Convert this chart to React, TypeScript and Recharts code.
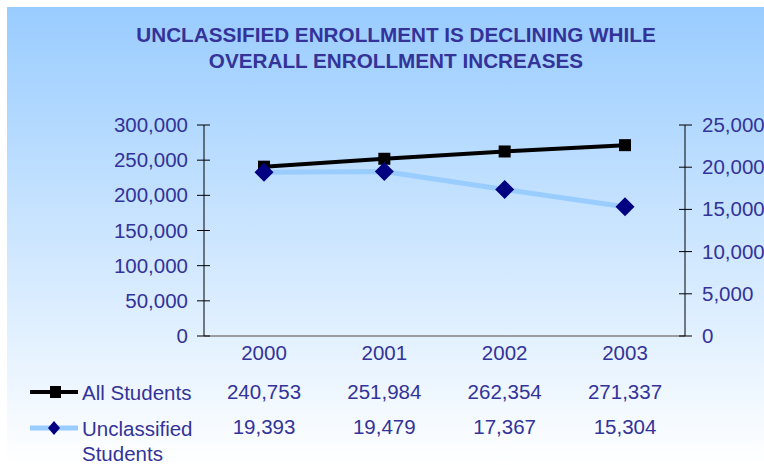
import { LineChart, Line, XAxis, YAxis } from 'recharts'

const YEARS = ['2000', '2001', '2002', '2003']
const ALL_STUDENTS = [240753, 251984, 262354, 271337]
const UNCLASSIFIED = [19393, 19479, 17367, 15304]
const LEFT_TICKS = [0, 50000, 100000, 150000, 200000, 250000, 300000]
const RIGHT_TICKS = [0, 5000, 10000, 15000, 20000, 25000]
const SERIES_NAMES = ['All Students', 'Unclassified', 'Students']
const TITLE_LINES = ['UNCLASSIFIED ENROLLMENT IS DECLINING WHILE', 'OVERALL ENROLLMENT INCREASES']

const TEXT = '#333399'
const FONT = '"Liberation Sans", Arial, sans-serif'
const BLUE_LINE = '#99CCFF'
const NAVY = '#000080'

const data = YEARS.map((year, i) => ({ year, all: ALL_STUDENTS[i], unclassified: UNCLASSIFIED[i] }))

const fmt = (n: number) => n.toLocaleString('en-US')

function LeftTick(props: any) {
  const { x, y, payload } = props
  // x is the label anchor: axis - tickSize(7) - tickMargin(9)
  const axisX = x + 16
  return (
    <g>
      <line x1={axisX - 7} x2={axisX + 6} y1={y} y2={y} stroke="#000" strokeWidth={1} />
      <text x={x} y={y} dy={7} textAnchor="end" fill={TEXT} fontSize={20.5} fontFamily={FONT}>
        {fmt(payload.value)}
      </text>
    </g>
  )
}

function RightTick(props: any) {
  const { x, y, payload } = props
  const axisX = x - 17
  return (
    <g>
      <line x1={axisX - 6} x2={axisX + 7} y1={y} y2={y} stroke="#000" strokeWidth={1} />
      <text x={x} y={y} dy={7} textAnchor="start" fill={TEXT} fontSize={20.5} fontFamily={FONT}>
        {fmt(payload.value)}
      </text>
    </g>
  )
}

function TableTick(props: any) {
  const { x, y, payload, index } = props
  const i = typeof index === 'number' ? index : YEARS.indexOf(payload.value)
  return (
    <g fill={TEXT} fontSize={20.5} fontFamily={FONT} textAnchor="middle">
      <text x={x} y={y + 24}>{payload.value}</text>
      <text x={x} y={y + 63}>{fmt(ALL_STUDENTS[i])}</text>
      <text x={x} y={y + 98}>{fmt(UNCLASSIFIED[i])}</text>
    </g>
  )
}

function SquareDot(props: any) {
  const { cx, cy } = props
  if (cx == null || cy == null) return null
  return <rect x={cx - 6} y={cy - 6} width={12} height={12} fill="#000" />
}

function DiamondDot(props: any) {
  const { cx, cy } = props
  if (cx == null || cy == null) return null
  return <path d={`M${cx},${cy - 9.5} L${cx + 9.5},${cy} L${cx},${cy + 9.5} L${cx - 9.5},${cy} Z`} fill={NAVY} />
}

export default function App() {
  return (
    <div style={{ position: 'absolute', left: 0, top: 0, width: 764, height: 465, overflow: 'hidden', background: '#fff' }}>
      <div
        style={{
          position: 'absolute',
          left: 7,
          top: 7,
          width: 757,
          height: 458,
          background: 'linear-gradient(to bottom, #99CCFF 0%, #FFFFFF 100%)',
        }}
      />
      <div
        style={{
          position: 'absolute',
          left: 28,
          top: 22,
          width: 736,
          textAlign: 'center',
          color: TEXT,
          fontFamily: FONT,
          fontWeight: 'bold',
          fontSize: 20.7,
          lineHeight: '26px',
        }}
      >
        {TITLE_LINES.map(l => (
          <div key={l}>{l}</div>
        ))}
      </div>

      <LineChart
        width={764}
        height={465}
        data={data}
        margin={{ top: 125, right: 0, bottom: 0, left: 0 }}
        style={{ position: 'absolute', left: 0, top: 0 }}
      >
        <XAxis
          dataKey="year"
          height={129}
          padding={{ left: 60, right: 60 }}
          axisLine={{ stroke: '#808080', strokeWidth: 1.5 }}
          tickLine={false}
          tickSize={0}
          tickMargin={0}
          interval={0}
          tick={<TableTick />}
        />
        <YAxis
          yAxisId="left"
          width={204}
          domain={[0, 300000]}
          ticks={LEFT_TICKS}
          interval={0}
          axisLine={{ stroke: '#000' }}
          tickLine={false}
          tickSize={7}
          tickMargin={9}
          tick={<LeftTick />}
        />
        <YAxis
          yAxisId="right"
          orientation="right"
          width={79}
          domain={[0, 25000]}
          ticks={RIGHT_TICKS}
          interval={0}
          axisLine={{ stroke: '#000' }}
          tickLine={false}
          tickSize={7}
          tickMargin={10}
          tick={<RightTick />}
        />
        <Line
          yAxisId="left"
          dataKey="all"
          stroke="#000"
          strokeWidth={4}
          dot={<SquareDot />}
          activeDot={false}
          isAnimationActive={false}
        />
        <Line
          yAxisId="right"
          dataKey="unclassified"
          stroke={BLUE_LINE}
          strokeWidth={5}
          dot={<DiamondDot />}
          activeDot={false}
          isAnimationActive={false}
        />
      </LineChart>

      <svg width={764} height={465} style={{ position: 'absolute', left: 0, top: 0, pointerEvents: 'none' }}>
        <line x1={30} x2={78} y1={392} y2={392} stroke="#000" strokeWidth={4} />
        <rect x={50} y={386} width={11} height={12} fill="#000" />
        <line x1={30} x2={78} y1={428} y2={428} stroke={BLUE_LINE} strokeWidth={5} />
        <path d="M54,421 L60,428 L54,435 L48,428 Z" fill={NAVY} />
        <g fill={TEXT} fontSize={20.5} fontFamily={FONT}>
          <text x={82} y={400}>{SERIES_NAMES[0]}</text>
          <text x={82} y={436}>{SERIES_NAMES[1]}</text>
          <text x={82} y={461}>{SERIES_NAMES[2]}</text>
        </g>
      </svg>
    </div>
  )
}
